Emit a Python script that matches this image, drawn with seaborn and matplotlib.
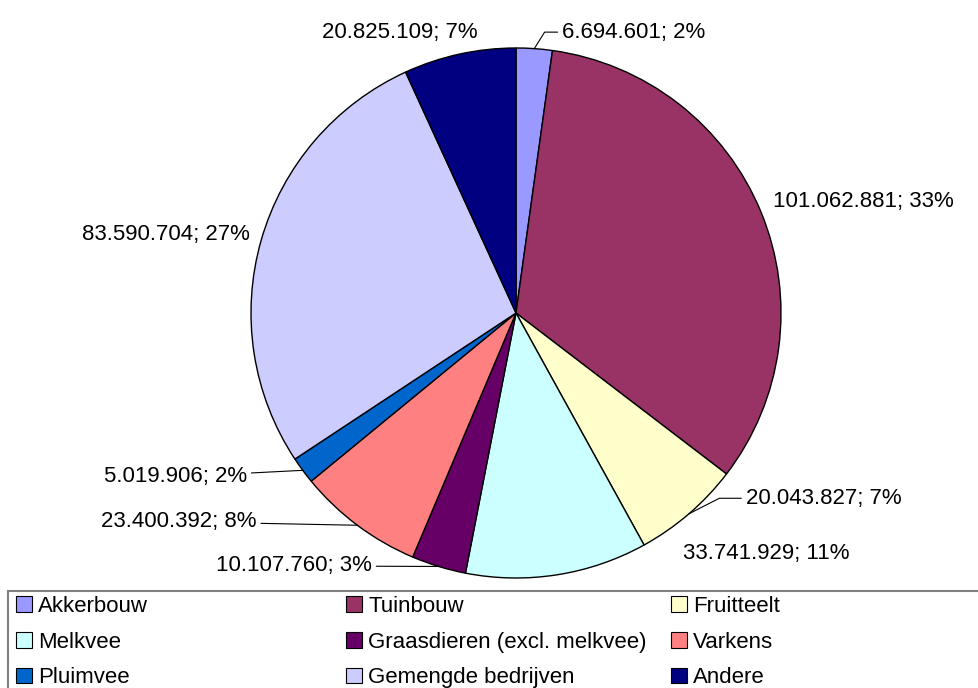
import matplotlib
matplotlib.use("Agg")
import matplotlib.pyplot as plt
from matplotlib.patches import Patch, Rectangle
import numpy as np
import seaborn as sns

# data
categories = ["Akkerbouw", "Tuinbouw", "Fruitteelt", "Melkvee",
              "Graasdieren (excl. melkvee)", "Varkens", "Pluimvee",
              "Gemengde bedrijven", "Andere"]
values = [6694601, 101062881, 20043827, 33741929, 10107760,
          23400392, 5019906, 83590704, 20825109]
colors = ["#9999FF", "#993366", "#FFFFCC", "#CCFFFF", "#660066",
          "#FF8080", "#0066CC", "#CCCCFF", "#000080"]

# label layout: offset (pixels) from the wedge's outer mid point, alignment, leader
label_offsets = [(28, 11), (12, 5), (57, 10), (126, 16), (-67, -5),
                 (-101, -2), (-56, -12), (-11, 0), (18, 16)]
label_ha = ["left", "left", "left", "left", "right",
            "right", "right", "right", "right"]
leaders = ["angle,angleA=0,angleB=58,rad=0", None,
           "angle,angleA=0,angleB=27,rad=0", None, "arc3,rad=0",
           "arc3,rad=0", "arc3,rad=0", None, None]

sns.set_style("white")
plt.rcParams["font.family"] = ["Liberation Sans", "DejaVu Sans"]
plt.rcParams["text.color"] = "black"
FS = 16

W, H = 979, 688
fig = plt.figure(figsize=(W / 100, H / 100), dpi=100)
fig.patch.set_facecolor("white")

cx, cy, r = 516, 313, 265
ax = fig.add_axes([(cx - r) / W, (H - cy - r) / H, 2 * r / W, 2 * r / H])
pal = sns.color_palette(colors)
wedges, _ = ax.pie(values, colors=pal, startangle=90, counterclock=False,
                   radius=1, wedgeprops=dict(edgecolor="black", linewidth=1))
ax.set_xlim(-1, 1)
ax.set_ylim(-1, 1)
ax.set_aspect("equal")
ax.axis("off")

total = sum(values)
for w, v, off, ha, lead in zip(wedges, values, label_offsets, label_ha, leaders):
    mid = np.deg2rad((w.theta1 + w.theta2) / 2)
    pt = (np.cos(mid), np.sin(mid))
    txt = f"{v:,}".replace(",", ".") + f"; {round(100 * v / total)}%"
    props = None
    if lead:
        props = dict(arrowstyle="-", color="black", lw=0.8,
                     connectionstyle=lead, shrinkA=1, shrinkB=0)
    ax.annotate(txt, xy=pt, xytext=off, textcoords="offset pixels",
                ha=ha, va="baseline", fontsize=FS, color="black",
                arrowprops=props, annotation_clip=False)

# legend box
fig.patches.append(Rectangle((8 / W, -0.05), 1.2, (H - 591) / H + 0.05,
                             transform=fig.transFigure, facecolor="none",
                             edgecolor="#808080", linewidth=1.5))

handles = [Patch(facecolor=c, edgecolor="black", linewidth=0.8) for c in colors]
col_x = [16, 346, 671]
for j, x in enumerate(col_x):
    idx = [j, j + 3, j + 6]
    leg = fig.legend([handles[i] for i in idx], [categories[i] for i in idx],
                     loc="upper left", bbox_to_anchor=(x / W, (H - 596) / H),
                     frameon=False, fontsize=FS, borderpad=0, borderaxespad=0,
                     handlelength=0.7, handleheight=0.7, handletextpad=0.3,
                     labelspacing=0.66)
    for t in leg.get_texts():
        t.set_color("black")

fig.savefig("out.png", dpi=100, facecolor="white")
